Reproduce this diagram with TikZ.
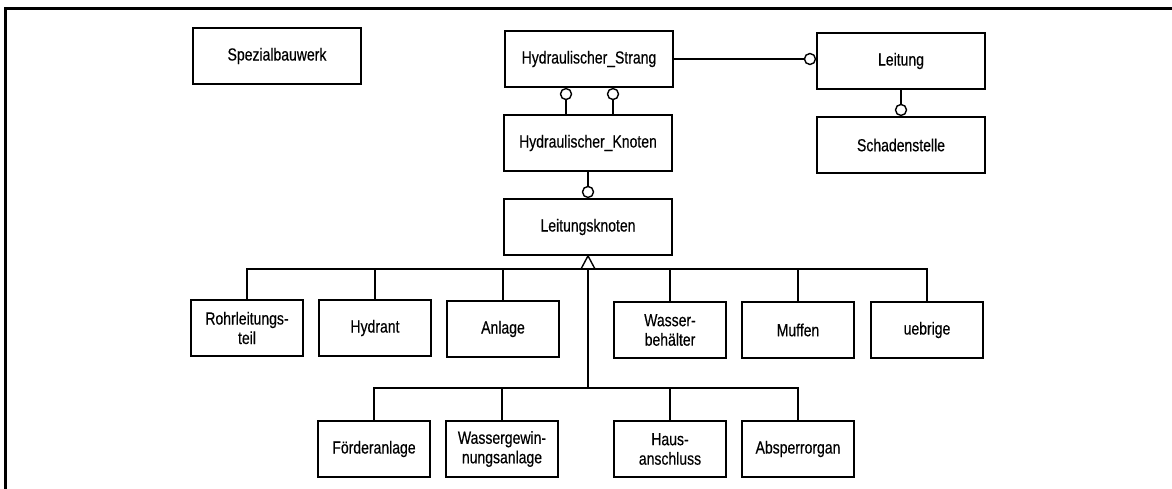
\documentclass[tikz,border=0pt]{standalone}
\usepackage{fontspec}
\setmainfont{Liberation Sans}[FakeStretch=0.8, FakeBold=0.4]
\begin{document}
\begin{tikzpicture}[x=1pt,y=-1pt,
  box/.style={draw, line width=1.7pt, inner sep=0pt, align=center,
    minimum height=56pt, minimum width=112pt,
    font=\fontsize{17.5}{19.5}\selectfont},
  widebox/.style={box, minimum width=168pt},
  link/.style={line width=1.4pt},
  ball/.style={circle, draw, line width=1.4pt, fill=white,
    minimum size=11pt, inner sep=0pt},
  frameline/.style={line width=3pt}]
\useasboundingbox (0,0) rectangle (1172,489);

% page frame (top and left edges)
\draw[frameline] (5,489) -- (5,9) -- (1172,9);

% upper classes
\node[widebox] (spez) at (277,56)  {Spezialbauwerk};
\node[widebox] (hs)   at (589,59)  {Hydraulischer\_Strang};
\node[widebox] (leit) at (901,61)  {Leitung};
\node[widebox] (hk)   at (588,143) {Hydraulischer\_Knoten};
\node[widebox] (sch)  at (901,145) {Schadenstelle};
\node[widebox] (lk)   at (588,227) {Leitungsknoten};

% first row of subclasses
\node[box] (r1)  at (247,328) {Rohrleitungs-\\teil};
\node[box] (hyd) at (375,328) {Hydrant};
\node[box] (anl) at (503,329) {Anlage};
\node[box] (wb)  at (670,330) {Wasser-\\behälter};
\node[box] (muf) at (798,330) {Muffen};
\node[box] (ueb) at (927,330) {uebrige};

% second row of subclasses
\node[box] (foe) at (374,449) {Förderanlage};
\node[box] (wg)  at (502,449) {Wassergewin-\\nungsanlage};
\node[box] (ha)  at (670,449) {Haus-\\anschluss};
\node[box] (abs) at (798,449) {Absperrorgan};

% associations with optional ends
\node[ball, anchor=east]  (c1) at (leit.west |- hs.east) {};
\draw[link] (hs.east) -- (c1);

\node[ball, anchor=north] (c2) at ([xshift=-23pt]hs.south) {};
\node[ball, anchor=north] (c3) at ([xshift=24pt]hs.south) {};
\draw[link] (c2.south) -- (c2.south |- hk.north);
\draw[link] (c3.south) -- (c3.south |- hk.north);

\node[ball, anchor=south] (c4) at (sch.north) {};
\draw[link] (leit.south) -- (c4);

\node[ball, anchor=south] (c5) at (lk.north) {};
\draw[link] (hk.south) -- (c5);

% generalisation
\coordinate (bus1) at (588,269);
\coordinate (bus2) at (588,388);
\draw[link, line join=miter] (lk.south) -- ([xshift=-7pt]bus1) -- ([xshift=7pt]bus1) -- cycle;
\draw[link] (bus1) -- (bus2);
\draw[link] (r1.north) -- (r1.north |- bus1) -- (ueb.north |- bus1) -- (ueb.north);
\foreach \n in {hyd,anl,wb,muf} \draw[link] (\n.north) -- (\n.north |- bus1);
\draw[link] (foe.north) -- (foe.north |- bus2) -- (abs.north |- bus2) -- (abs.north);
\foreach \n in {wg,ha} \draw[link] (\n.north) -- (\n.north |- bus2);
\end{tikzpicture}
\end{document}
